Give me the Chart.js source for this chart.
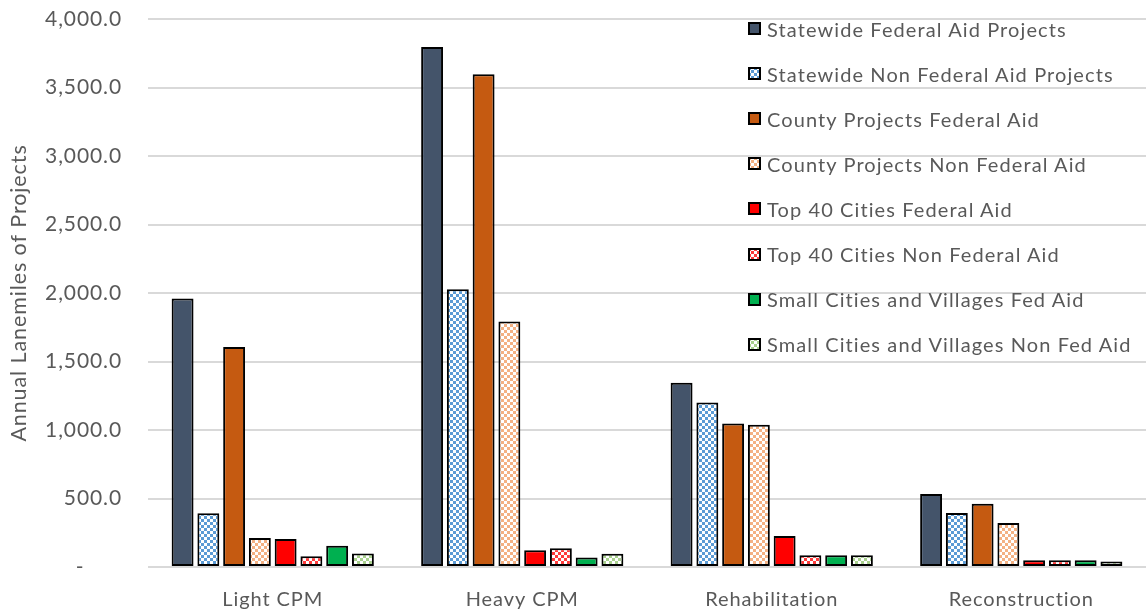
<!DOCTYPE html>
<html>
<head>
<meta charset="utf-8">
<script src="https://cdn.jsdelivr.net/npm/chart.js@4.4.1/dist/chart.umd.min.js"></script>
<style>
  html, body { margin: 0; padding: 0; background: #fff; overflow: hidden; }
  #wrap { position: relative; width: 1148px; height: 614px; }
  #legend { position: absolute; left: 748px; top: 17px; font-family: Lato, "Noto Sans", sans-serif; font-size: 20px; letter-spacing: 1.1px; color: #595959; }
  .item { display: flex; align-items: center; height: 45.1px; line-height: 24px; white-space: nowrap; }
  .item canvas { margin-right: 6px; display: block; position: relative; top: -11px; }
  .item span { position: relative; top: -11px; }
</style>
</head>
<body>
<div id="wrap">
  <canvas id="c" width="1148" height="614"></canvas>
  <div id="legend"></div>
</div>
<script>
const categories = ["Light CPM", "Heavy CPM", "Rehabilitation", "Reconstruction"];
const seriesNames = [
  "Statewide Federal Aid Projects",
  "Statewide Non Federal Aid Projects",
  "County Projects Federal Aid",
  "County Projects Non Federal Aid",
  "Top 40 Cities Federal Aid",
  "Top 40 Cities Non Federal Aid",
  "Small Cities and Villages Fed Aid",
  "Small Cities and Villages Non Fed Aid"
];
const statewideFed    = [1960, 3795, 1345, 533];
const statewideNonFed = [392, 2028, 1200, 395];
const countyFed       = [1605, 3597, 1048, 461];
const countyNonFed    = [211, 1792, 1039, 322];
const top40Fed        = [204, 123, 226, 49];
const top40NonFed     = [79, 136, 85, 49];
const smallFed        = [155, 69, 85, 49];
const smallNonFed     = [99, 97, 85, 41];
const seriesValues = [statewideFed, statewideNonFed, countyFed, countyNonFed, top40Fed, top40NonFed, smallFed, smallNonFed];
const yTicks = [0, 500, 1000, 1500, 2000, 2500, 3000, 3500, 4000];

function makePattern(fg, cell) {
  const t = document.createElement('canvas');
  t.width = cell * 2; t.height = cell * 2;
  const g = t.getContext('2d');
  g.fillStyle = '#ffffff'; g.fillRect(0, 0, cell * 2, cell * 2);
  g.fillStyle = fg;
  g.fillRect(0, 0, cell, cell);
  g.fillRect(cell, cell, cell, cell);
  return document.getElementById('c').getContext('2d').createPattern(t, 'repeat');
}
const fills = [
  '#44546A',
  makePattern('#5B9BD5', 3),
  '#C55A11',
  makePattern('#F4B183', 3),
  '#FF0000',
  makePattern('#FF3B3B', 3),
  '#00B050',
  makePattern('#A9D18E', 3)
];

const datasets = seriesNames.map((name, i) => ({
  label: name,
  data: seriesValues[i],
  backgroundColor: fills[i],
  borderColor: '#000000',
  borderWidth: 2,
  borderSkipped: false,
  categoryPercentage: 0.826,
  barPercentage: 0.85
}));

const spacing = {
  id: 'spacing',
  beforeLayout(c) { c.ctx.letterSpacing = '0.9px'; },
  beforeDraw(c) { c.ctx.letterSpacing = '0.9px'; }
};

const FONT = 'Lato, "Noto Sans", sans-serif';
const chart = new Chart(document.getElementById('c'), {
  type: 'bar',
  data: { labels: categories, datasets },
  plugins: [spacing],
  options: {
    responsive: false,
    animation: false,
    layout: { padding: { top: 19, right: 2, left: 0, bottom: 2 } },
    plugins: { legend: { display: false }, tooltip: { enabled: false } },
    scales: {
      x: {
        grid: { display: false, drawTicks: false },
        border: { display: false },
        afterFit: (s) => { s.paddingLeft = 0; s.paddingRight = 0; s.paddingTop = 0; s.paddingBottom = 0; s.height = 45; },
        ticks: { color: '#595959', font: { family: FONT, size: 20 }, padding: 21, maxRotation: 0 }
      },
      y: {
        min: 0, max: 4000,
        afterBuildTicks: (s) => { s.ticks = yTicks.map(v => ({ value: v })); },
        afterFit: (s) => { s.width = 148; s.paddingTop = 0; s.paddingBottom = 0; },
        grid: { color: '#D9D9D9', lineWidth: 2, drawTicks: false },
        border: { display: false },
        ticks: {
          color: '#595959', font: { family: FONT, size: 21 }, padding: 26,
          callback: (v) => v === 0 ? '-      ' : v.toLocaleString('en-US', { minimumFractionDigits: 1, maximumFractionDigits: 1 })
        },
        title: { display: true, text: 'Annual Lanemiles of Projects', color: '#595959', font: { family: FONT, size: 21.5 }, padding: { top: 6, bottom: 0 } }
      }
    }
  }
});

// HTML legend built from the datasets
const leg = document.getElementById('legend');
chart.data.datasets.forEach((ds) => {
  const item = document.createElement('div'); item.className = 'item';
  const sw = document.createElement('canvas'); sw.width = 13; sw.height = 13;
  const g = sw.getContext('2d');
  g.fillStyle = ds.backgroundColor; g.fillRect(0, 0, 13, 13);
  g.strokeStyle = '#000'; g.lineWidth = 2; g.strokeRect(1, 1, 11, 11);
  const sp = document.createElement('span'); sp.textContent = ds.label;
  item.appendChild(sw); item.appendChild(sp); leg.appendChild(item);
});
</script>
</body>
</html>
